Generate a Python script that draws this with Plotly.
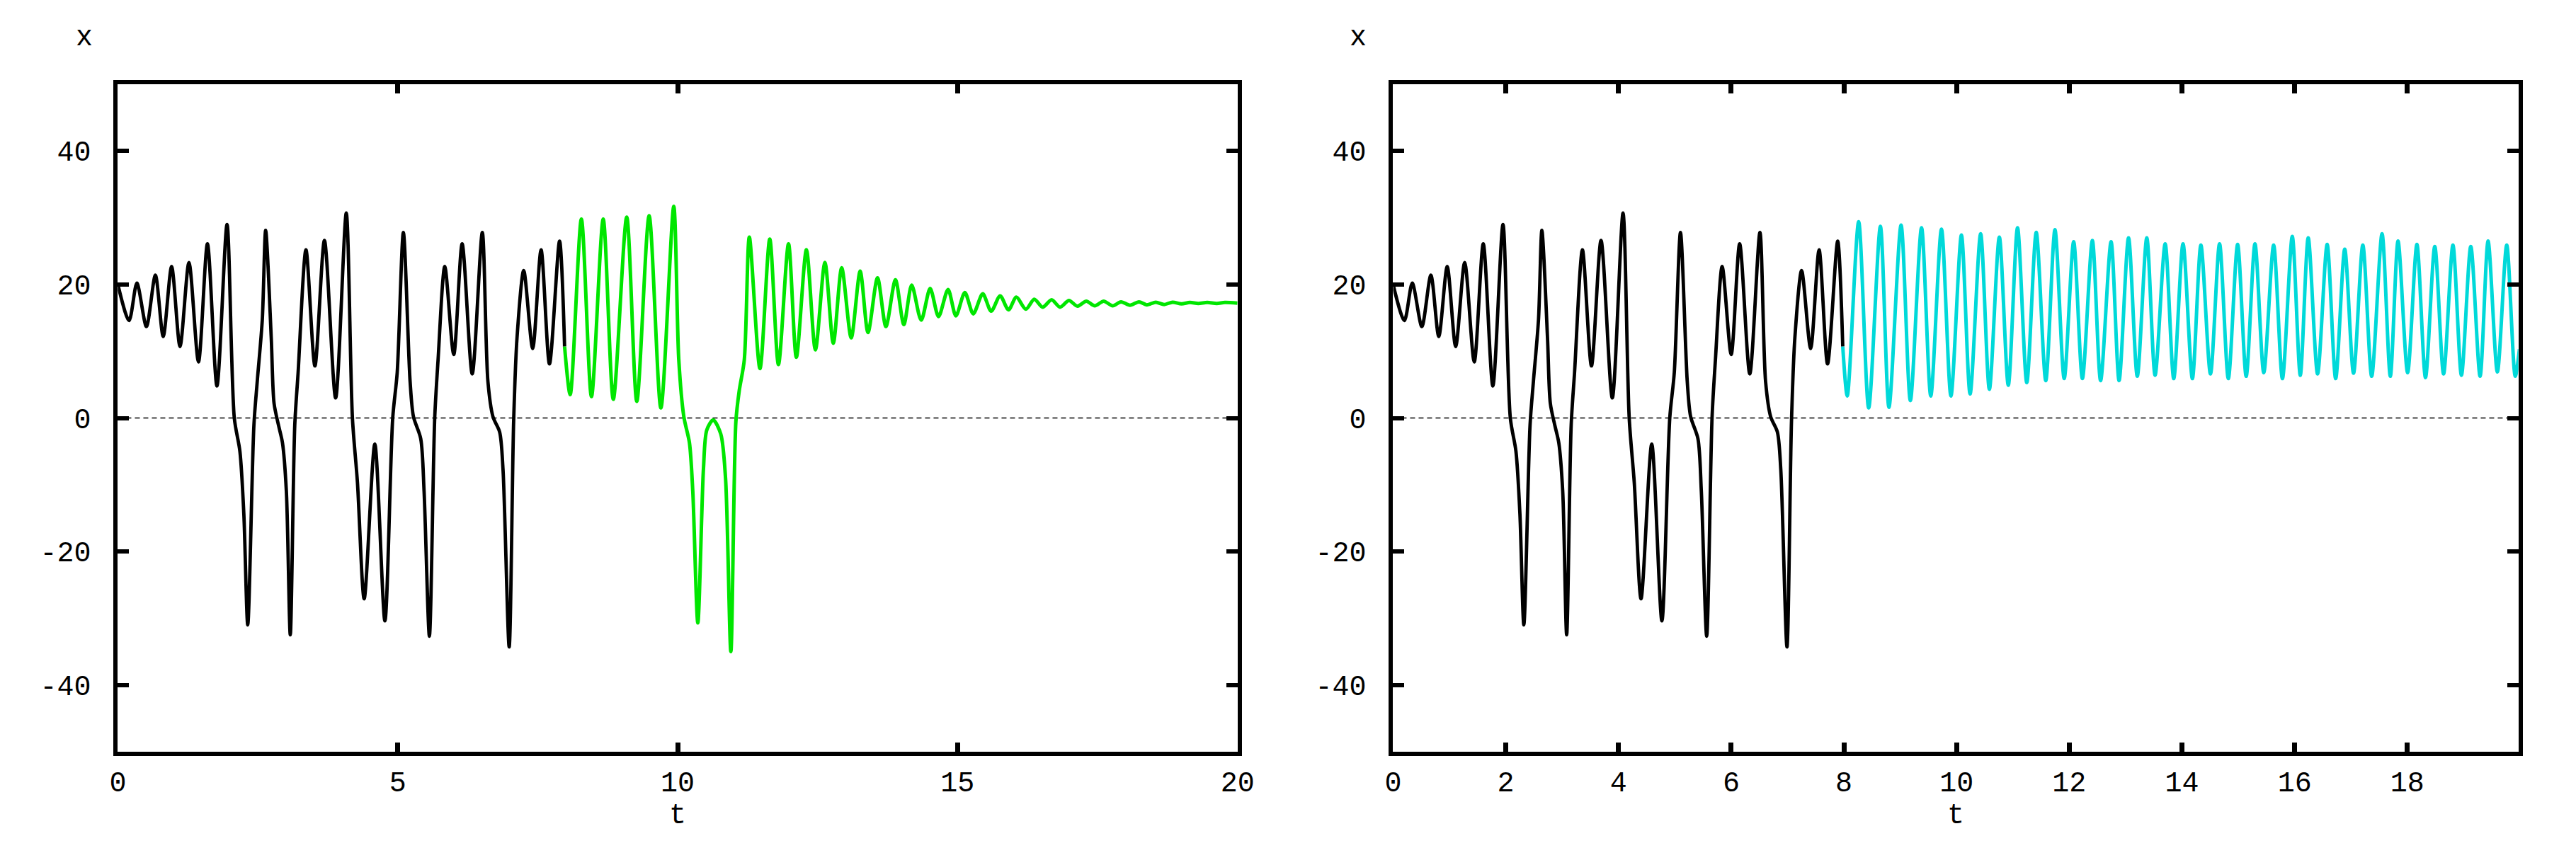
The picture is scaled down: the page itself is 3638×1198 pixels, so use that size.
import plotly.graph_objects as go

# ---------------- data ----------------
# shared transient (black), t in [0, 7.98]
black_t = [0.00, 0.20, 0.34, 0.51, 0.67, 0.81, 0.96, 1.11, 1.27, 1.44, 1.60, 1.77, 1.95,
           2.08, 2.18, 2.25, 2.32, 2.43, 2.49, 2.58, 2.64, 2.74, 2.79, 2.87, 2.94, 3.01,
           3.08, 3.16, 3.22, 3.36, 3.52, 3.69, 3.89, 4.08, 4.19, 4.28, 4.40, 4.59, 4.77,
           4.91, 4.99, 5.10, 5.22, 5.28, 5.41, 5.47, 5.565, 5.66, 5.72, 5.84, 6.00, 6.15,
           6.33, 6.51, 6.61, 6.70, 6.82, 6.88, 6.99, 7.07, 7.13, 7.25, 7.41, 7.56, 7.71,
           7.89, 7.98]
black_x = [20.0, 14.6, 20.2, 13.7, 21.4, 12.2, 22.7, 10.7, 23.3, 8.4, 26.1, 4.8, 29.0,
           0.0, -5.0, -14.3, -31.0, -1.1, 5.5, 14.7, 28.1, 12.0, 2.2, -1.1, -3.7, -11.0,
           -32.5, -1.1, 6.8, 25.2, 7.8, 26.6, 3.0, 30.7, 0.0, -9.7, -27.1, -3.9, -30.4,
           0.0, 6.8, 27.8, 5.5, 0.2, -3.1, -11.0, -32.7, 0.0, 8.7, 22.7, 9.5, 26.1,
           6.6, 27.8, 5.5, 0.2, -2.1, -7.7, -34.3, -0.5, 12.0, 22.1, 10.4, 25.2, 8.1,
           26.5, 10.7]

# left panel continuation (green), t in [7.98, 20]
green_t = [7.98, 8.08, 8.28, 8.46, 8.67, 8.85, 9.09, 9.27, 9.49, 9.70, 9.93, 10.02, 10.11,
           10.21, 10.27, 10.36, 10.46, 10.52, 10.635, 10.77, 10.855, 10.95, 11.04, 11.10,
           11.19, 11.28, 11.47, 11.645, 11.80, 11.98, 12.12, 12.30, 12.46, 12.63, 12.78,
           12.93, 13.10, 13.26, 13.40, 13.57, 13.72, 13.89, 14.04, 14.18, 14.35, 14.51,
           14.66, 14.83, 14.97, 15.13, 15.28, 15.45, 15.60, 15.76, 15.91, 16.05, 16.22,
           16.37, 16.52, 16.68, 16.83, 16.99, 17.14, 17.30, 17.45, 17.61, 17.77, 17.92,
           18.08, 18.24, 18.38, 18.54, 18.69, 18.84, 19.00, 19.15, 19.30, 19.46, 19.63,
           19.775, 20.0]
green_x = [10.7, 3.5, 29.8, 3.2, 29.8, 2.8, 30.1, 2.5, 30.3, 1.5, 31.7, 8.7, 0.2,
           -3.7, -11.0, -30.7, -7.7, -1.8, -0.3, -2.4, -9.0, -35.0, -0.5, 4.1,
           8.7, 27.1, 7.4, 26.8, 8.0, 26.1, 9.1, 25.2, 10.2, 23.3, 11.2,
           22.5, 12.0, 22.0, 12.8, 21.0, 13.7, 20.7, 14.0, 19.9, 14.65, 19.4,
           15.2, 19.25, 15.3, 18.8, 15.6, 18.6, 16.0, 18.3, 16.2, 18.1, 16.3,
           17.8, 16.6, 17.7, 16.6, 17.6, 16.75, 17.5, 16.8, 17.5, 16.8, 17.4,
           16.9, 17.4, 16.95, 17.35, 17.0, 17.35, 17.1, 17.3, 17.15, 17.3, 17.15,
           17.3, 17.2]

# right panel continuation (cyan), t in [7.98, 19.99]
cyan_t = [7.98, 8.06, 8.262, 8.44, 8.648, 8.80, 9.015, 9.18, 9.378, 9.542, 9.732, 9.90,
          10.086, 10.24, 10.427, 10.582, 10.759, 10.918, 11.082, 11.246, 11.414, 11.583,
          11.746, 11.91, 12.078, 12.233, 12.41, 12.556, 12.742, 12.884, 13.052, 13.207,
          13.376, 13.523, 13.702, 13.854, 14.019, 14.185, 14.336, 14.506, 14.667, 14.823,
          14.988, 15.14, 15.296, 15.452, 15.627, 15.783, 15.958, 16.10, 16.241, 16.407,
          16.577, 16.728, 16.889, 17.045, 17.21, 17.367, 17.551, 17.698, 17.835, 18.005,
          18.17, 18.322, 18.487, 18.643, 18.809, 18.96, 19.126, 19.291, 19.433, 19.598,
          19.764, 19.915, 19.99]
cyan_x = [10.7, 3.3, 29.4, 1.5, 28.7, 1.6, 28.9, 2.6, 28.5, 3.3, 28.3, 3.3,
          27.4, 3.6, 27.6, 4.3, 27.1, 4.9, 28.5, 5.3, 27.8, 5.6,
          28.2, 5.9, 26.4, 5.9, 26.6, 5.6, 26.4, 5.6, 27.0, 6.25,
          27.0, 6.4, 26.1, 5.9, 26.1, 5.9, 25.9, 6.6, 26.1, 5.9,
          26.0, 6.25, 26.1, 6.8, 25.9, 5.9, 27.2, 6.4, 27.0, 6.6,
          26.0, 5.9, 25.3, 6.7, 25.9, 6.25, 27.6, 6.25, 26.5, 6.8,
          26.0, 6.05, 25.7, 6.6, 25.9, 6.4, 25.7, 6.25, 26.5, 6.9,
          25.9, 6.25, 10.3]

zero_level = [0, 0]
left_t_range = [0, 20]
right_t_range = [0, 19.97]
x_range = [-50, 50]

left_t_ticks = [0, 5, 10, 15, 20]
right_t_ticks = [0, 2, 4, 6, 8, 10, 12, 14, 16, 18]
x_ticks = [-40, -20, 0, 20, 40]
x_tick_text = ["-40", "-20", "0", "20", "40"]

axis_title_x = "x"
axis_title_t = "t"

# ---------------- styling ----------------
W, H = 3638, 1198
FONT = "Liberation Mono, Courier New, monospace"
FS = 40
BLACK = "#000000"
GREEN = "#00e600"
CYAN = "#00d9d9"


def px_x(p):
    return p / W


def px_y(p):
    return 1 - p / H


fig = go.Figure()

line_style = dict(shape="spline", smoothing=0.8)

# left panel
fig.add_trace(go.Scatter(x=left_t_range, y=zero_level, mode="lines",
                         line=dict(color=BLACK, width=1.6, dash="7px,5px"),
                         xaxis="x", yaxis="y", hoverinfo="skip"))
fig.add_trace(go.Scatter(x=black_t, y=black_x, mode="lines",
                         line=dict(color=BLACK, width=4.8, **line_style), xaxis="x", yaxis="y"))
fig.add_trace(go.Scatter(x=green_t, y=green_x, mode="lines",
                         line=dict(color=GREEN, width=5, **line_style), xaxis="x", yaxis="y"))

# right panel
fig.add_trace(go.Scatter(x=right_t_range, y=zero_level, mode="lines",
                         line=dict(color=BLACK, width=1.6, dash="7px,5px"),
                         xaxis="x2", yaxis="y2", hoverinfo="skip"))
fig.add_trace(go.Scatter(x=black_t, y=black_x, mode="lines",
                         line=dict(color=BLACK, width=4.8, **line_style), xaxis="x2", yaxis="y2"))
fig.add_trace(go.Scatter(x=cyan_t, y=cyan_x, mode="lines",
                         line=dict(color=CYAN, width=5, **line_style), xaxis="x2", yaxis="y2"))

# plot rectangles in window pixels (inner edges, half the border width inside)
L1, R1 = 156, 1753
L2, R2 = 1975, 3580
T, B = 119, 1062

common_axis = dict(showline=True, linecolor=BLACK, linewidth=6, mirror="ticks",
                   ticks="inside", tickcolor=BLACK, showgrid=False, zeroline=False,
                   tickfont=dict(family=FONT, size=FS, color=BLACK))

xaxis_common = dict(common_axis, ticklen=13, tickwidth=7, ticklabelstandoff=2)
yaxis_common = dict(common_axis, ticklen=16, tickwidth=6, ticklabelstandoff=24,
                    range=x_range, tickvals=x_ticks, ticktext=x_tick_text)

title_font = dict(family=FONT, size=FS, color=BLACK)

fig.update_layout(
    width=W, height=H,
    margin=dict(l=0, r=0, t=0, b=0),
    paper_bgcolor="white", plot_bgcolor="white",
    showlegend=False,
    xaxis=dict(xaxis_common, domain=[px_x(L1), px_x(R1)], range=left_t_range,
               tickvals=left_t_ticks, anchor="y"),
    yaxis=dict(yaxis_common, domain=[px_y(B), px_y(T)], anchor="x"),
    xaxis2=dict(xaxis_common, domain=[px_x(L2), px_x(R2)], range=right_t_range,
                tickvals=right_t_ticks, anchor="y2"),
    yaxis2=dict(yaxis_common, domain=[px_y(B), px_y(T)], anchor="x2"),
    annotations=[
        dict(text=axis_title_x, x=px_x(108), y=px_y(53), xref="paper", yref="paper",
             showarrow=False, xanchor="center", yanchor="middle", font=title_font),
        dict(text=axis_title_x, x=px_x(1925), y=px_y(53), xref="paper", yref="paper",
             showarrow=False, xanchor="center", yanchor="middle", font=title_font),
        dict(text=axis_title_t, x=px_x((L1 + R1) / 2), y=px_y(1152), xref="paper", yref="paper",
             showarrow=False, xanchor="center", yanchor="middle", font=title_font),
        dict(text=axis_title_t, x=px_x((L2 + R2) / 2), y=px_y(1152), xref="paper", yref="paper",
             showarrow=False, xanchor="center", yanchor="middle", font=title_font),
    ],
)

# remove the default page margin so the figure fills the window exactly; no modebar
fig.write_html("out.html",
               config={"displayModeBar": False},
               post_script="document.body.style.margin='0';"
                           "document.documentElement.style.overflow='hidden';")
